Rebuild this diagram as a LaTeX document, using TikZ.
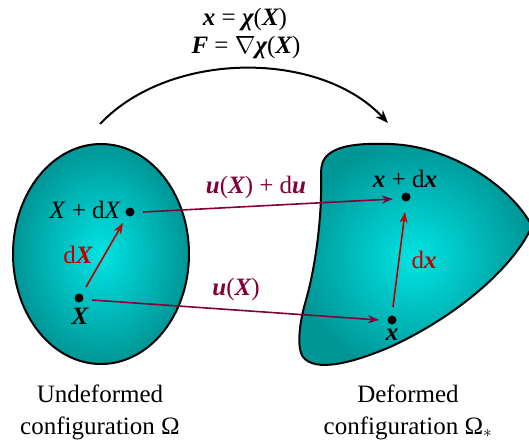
\documentclass[tikz,border=0pt]{standalone}
\usepackage{fontspec}
\setmainfont{Liberation Serif}
\usetikzlibrary{arrows.meta}
\definecolor{tealout}{RGB}{0,150,150}
\definecolor{tealin}{RGB}{0,228,228}
\definecolor{maroon}{RGB}{128,0,56}
\definecolor{darkred}{RGB}{192,0,0}
\newcommand{\bv}[1]{{\bfseries\itshape #1}}
\tikzset{
  body/.style={line width=2pt, draw=black, inner color=tealin, outer color=tealout},
  pt/.style={circle, fill=black, inner sep=0pt, minimum size=9pt},
  lbl/.style={font=\fontsize{25}{29}\selectfont, inner sep=0pt},
  disp/.style={draw=maroon, line width=1.6pt, -{Stealth[length=11pt,width=8pt]}},
  diff/.style={draw=darkred, line width=1.6pt, -{Stealth[length=11pt,width=8pt]}},
}
\begin{document}
\begin{tikzpicture}[x=1pt,y=-1pt]
\useasboundingbox (0,0) rectangle (529,442);
\begin{scope}
\clip (0,0) rectangle (529,442);
% undeformed body
\path[body] (101,254) ellipse [x radius=88, y radius=110];
% deformed body
\path[body] (325,158) .. controls (335,145) and (360,143) .. (390,144)
  .. controls (450,146) and (510,185) .. (532,226)
  .. controls (515,265) and (460,315) .. (390,347)
  .. controls (350,364) and (315,372) .. (303,357)
  .. controls (296,347) and (300,320) .. (306,300)
  .. controls (316,265) and (322,215) .. (321,180)
  .. controls (321,170) and (321,163) .. (325,158) -- cycle;
\end{scope}
% points
\node[pt] (P) at (79,298) {};
\node[pt] (Q) at (130,212) {};
\node[pt] (p) at (392,320) {};
\node[pt] (q) at (406,197) {};
% point labels
\node[lbl, anchor=base east] (QL) at (121,218) {\textit{X} + d\textit{X}};
\node[lbl, anchor=base] (PL) at (80,324) {\bv{X}};
\node[lbl, anchor=base] (qL) at (405,187) {\bv{x} + d\bv{x}};
\node[lbl, anchor=base] (pL) at (392,340) {\bv{x}};
% differential arrows
\draw[diff] (P) ++(7,-11) coordinate (Ps) -- (123,223) coordinate (Qe);
\node[lbl, text=darkred, anchor=base] (dX) at (78,263) {d\bv{X}};
\draw[diff] (p) ++(1,-13) coordinate (ps) -- (405,212) coordinate (qe);
\node[lbl, text=darkred, anchor=base] (dx) at (424,268) {d\bv{x}};
% displacement arrows
\draw[disp] (Q) ++(13,0) coordinate (Qs) -- (393,199) coordinate (qe2);
\node[lbl, text=maroon, anchor=base] (uX2) at (256,193) {\bv{u}(\bv{X}) + d\bv{u}};
\draw[disp] (P) ++(13,2) coordinate (Ps2) -- (379,320) coordinate (pe2);
\node[lbl, text=maroon, anchor=base] (uX) at (236,295) {\bv{u}(\bv{X})};
% mapping arc
\coordinate (A1) at (100,124);
\coordinate (A2) at (388,123);
\draw[line width=2pt, -{Stealth[length=13pt,width=10pt]}] (A1) .. controls (170,50) and (320,50) .. (A2);
\node[lbl, anchor=base] (m1) at (245,25) {\bv{x} = \bv{χ}(\bv{X})};
\node[lbl, anchor=base] (m2) at (246,53) {\bv{F} = $\nabla$\bv{χ}(\bv{X})};
% captions
\node[lbl, anchor=base] (c1) at (100,402) {Undeformed};
\node[lbl, anchor=base] (c2) at (100,434) {configuration Ω};
\node[lbl, anchor=base] (c3) at (408,402) {Deformed};
\node[lbl, anchor=base] (c4) at (408,434) {configuration Ω$_*$};
\end{tikzpicture}
\end{document}
